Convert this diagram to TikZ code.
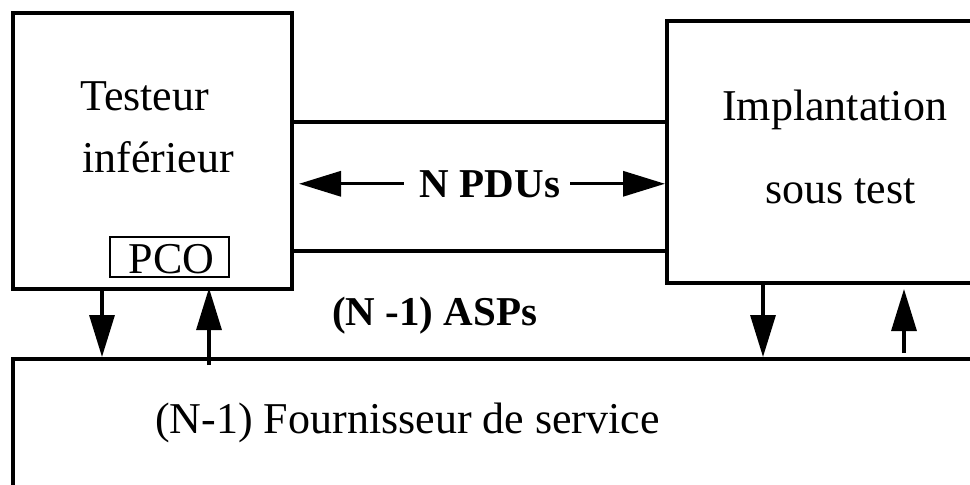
\documentclass[tikz,border=0pt]{standalone}
\usepackage{fontspec}
\setmainfont{Liberation Serif}
\usetikzlibrary{arrows.meta}
\begin{document}
\begin{tikzpicture}[x=1pt,y=-1pt,
  box/.style={draw, line width=4pt, inner sep=0pt},
  link/.style={line width=3.3pt},
  tip/.style={-{Triangle[length=42pt,width=25pt]}},
  lbl/.style={inner sep=0pt, anchor=base west, font=\fontsize{44}{50}\selectfont},
  blbl/.style={inner sep=0pt, font=\fontsize{41}{48}\selectfont\bfseries},
]
\useasboundingbox (0,0) rectangle (970,485);
\clip (0,0) rectangle (970,485);
% boxes
\node[box, minimum width=279pt, minimum height=276pt] (tester) at (152.5,151) {};
\node[box, minimum width=400pt, minimum height=262pt] (impl) at (867,152) {};
\node[box, minimum width=1100pt, minimum height=300pt] (service) at (563,509) {};
\node[draw, line width=2.5pt, inner sep=0pt, minimum width=119pt, minimum height=40pt,
      text height=32pt, text depth=0pt, font=\fontsize{44}{50}\selectfont] (pco) at (169.5,257) {\hspace*{4pt}PCO};
% texts
\node[lbl] (t1) at (80,110) {Testeur};
\node[lbl] (t2) at (82,172) {inférieur};
\node[lbl] (i1) at (722,120) {Implantation};
\node[lbl] (i2) at (765,203) {sous test};
\node[lbl] (s1) at (155,433) {(N-1) Fournisseur de service};
\node[blbl, anchor=base] (npdu) at (490,197) {N PDUs};
\node[blbl, anchor=base west] (asp) at (332,325) {(N -1) ASPs};
% channel lines
\draw[link] (tester.east |- 0,122) -- (impl.west |- 0,122);
\draw[link] (tester.east |- 0,251) -- (impl.west |- 0,251);
% N PDUs arrows
\draw[link,tip] ([xshift=-16pt]npdu.west) -- ([xshift=5pt]tester.east |- npdu.west);
\draw[link,tip] ([xshift=10pt]npdu.east) -- (impl.west |- npdu.east);
% vertical arrows, left
\draw[link,tip] (102,0 |- tester.south) -- (102,0 |- service.north);
\draw[link,tip] ([yshift=-8pt]209,0 |- service.north) -- ([yshift=3pt]209,0 |- tester.south);
% vertical arrows, right
\draw[link,tip] (763,0 |- impl.south) -- (763,0 |- service.north);
\draw[link,tip] ([yshift=4pt]904,0 |- service.north) -- ([yshift=-4pt]904,0 |- impl.south);
\end{tikzpicture}
\end{document}
